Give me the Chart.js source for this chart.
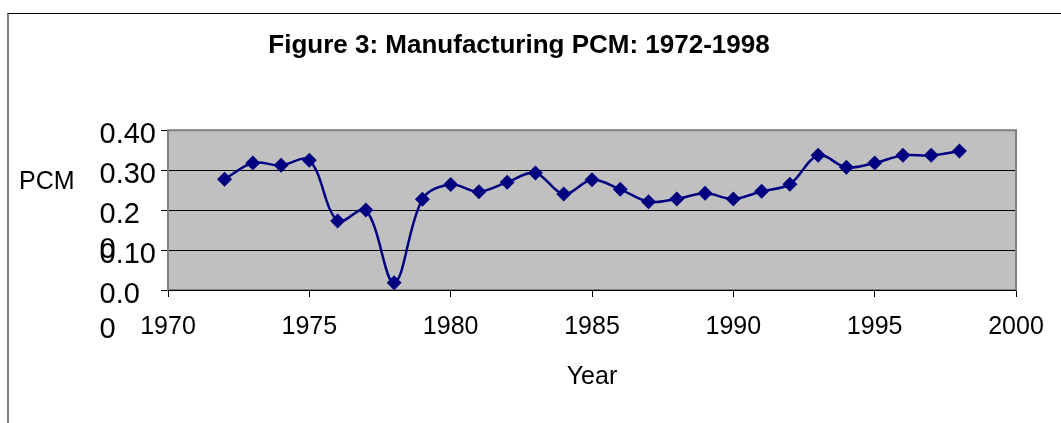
<!DOCTYPE html>
<html>
<head>
<meta charset="utf-8">
<script src="https://cdn.jsdelivr.net/npm/chart.js@4/dist/chart.umd.min.js"></script>
<style>
  html, body { margin: 0; padding: 0; background: #fff; overflow: hidden; }
  #frame { position: absolute; left: 7px; top: 13px; width: 1200px; height: 600px;
           border-top: 1px solid #000; border-left: 2px solid #808080; z-index: 0; }
  #c { position: absolute; left: 0; top: 0; z-index: 1; }
</style>
</head>
<body>
<div id="frame"></div>
<canvas id="c" width="1061" height="423"></canvas>
<script>
// ---- data ----
const years = [1972,1973,1974,1975,1976,1977,1978,1979,1980,1981,1982,1983,1984,1985,
               1986,1987,1988,1989,1990,1991,1992,1993,1994,1995,1996,1997,1998];
const pcm   = [0.277,0.318,0.312,0.325,0.173,0.200,0.018,0.227,0.264,0.246,0.270,0.293,0.240,0.276,
               0.252,0.221,0.228,0.242,0.228,0.247,0.265,0.337,0.307,0.318,0.337,0.337,0.348];
const xTickValues = [1970,1975,1980,1985,1990,1995,2000];
const yTickValues = [0, 0.1, 0.2, 0.3, 0.4];
const yTickLabels = ["0.0\u2007", "0.10", "0.2\u2007", "0.30", "0.40"];
const yWrapValues = [0.2, 0];      // labels whose last "0" wrapped to the next line
const yWrapText = "0";
const titleText = "Figure 3: Manufacturing PCM: 1972-1998";
const yTitleText = "PCM";
const xTitleText = "Year";

const FONT = "'Liberation Sans', Arial, sans-serif";
const Y_FONT_SIZE = 29;
const Y_LABEL_OFFSET = 5;

const plotPlugin = {
  id: 'plotDecor',
  beforeDraw(chart) {
    const {ctx, chartArea: a} = chart;
    ctx.save();
    ctx.fillStyle = '#C0C0C0';
    ctx.fillRect(a.left, a.top, a.right - a.left, a.bottom - a.top);
    ctx.restore();
  },
  beforeDatasetsDraw(chart) {
    const {ctx, chartArea: a} = chart;
    ctx.save();
    ctx.strokeStyle = '#808080';
    ctx.lineWidth = 2;
    ctx.strokeRect(a.left, a.top, a.right - a.left, a.bottom - a.top);
    ctx.strokeStyle = '#000';
    ctx.lineWidth = 1;
    ctx.beginPath();
    ctx.moveTo(a.left, a.bottom + 0.5);
    ctx.lineTo(a.right, a.bottom + 0.5);
    ctx.stroke();
    ctx.restore();
  },
  afterDraw(chart) {
    const {ctx} = chart;
    const ys = chart.scales.y;
    const labelRight = chart.chartArea.left - 7 - 5;
    ctx.save();
    ctx.fillStyle = '#000';
    ctx.textBaseline = 'middle';
    ctx.textAlign = 'left';
    ctx.font = Y_FONT_SIZE + 'px ' + FONT;
    yWrapValues.forEach(v => {
      const i = yTickValues.indexOf(v);
      const w = ctx.measureText(yTickLabels[i]).width;
      const y = ys.getPixelForValue(v) + Y_LABEL_OFFSET + 35;
      ctx.fillText(yWrapText, labelRight - w, y);
    });
    // horizontal y-axis title
    ctx.font = '25px ' + FONT;
    ctx.fillText(yTitleText, 19, 182);
    ctx.restore();
  }
};

new Chart(document.getElementById('c'), {
  type: 'line',
  data: {
    datasets: [{
      data: years.map((y, i) => ({x: y, y: pcm[i]})),
      borderColor: '#000080',
      backgroundColor: '#000080',
      borderWidth: 2.5,
      tension: 0.35,
      pointStyle: 'rectRot',
      pointRadius: 7.5,
      pointHoverRadius: 7.5,
      pointBackgroundColor: '#000080',
      pointBorderColor: '#000080',
      pointBorderWidth: 0,
      fill: false
    }]
  },
  options: {
    responsive: false,
    animation: false,
    devicePixelRatio: 1,
    layout: { padding: { left: 22, right: 45, top: 0, bottom: 0 } },
    plugins: {
      legend: { display: false },
      tooltip: { enabled: false },
      title: {
        display: true,
        text: titleText,
        color: '#000',
        font: { family: FONT, size: 26, weight: 'bold', lineHeight: 1.2 },
        padding: { top: 30, bottom: 69 }
      }
    },
    scales: {
      x: {
        type: 'linear',
        min: 1970, max: 2000,
        afterBuildTicks(scale) { scale.ticks = xTickValues.map(v => ({value: v})); },
        afterFit(scale) { scale.height = 133; },
        border: { display: false },
        grid: { drawOnChartArea: false, drawTicks: true, tickLength: 7, color: '#000', tickColor: '#000' },
        ticks: {
          color: '#000', padding: 15, maxRotation: 0, autoSkip: false,
          font: { family: FONT, size: 25, lineHeight: 1.2 },
          callback: v => String(v)
        },
        title: {
          display: true, text: xTitleText, color: '#000',
          font: { family: FONT, size: 25, lineHeight: 1.2 },
          padding: { top: 0, bottom: 31 }
        }
      },
      y: {
        min: 0, max: 0.4,
        afterBuildTicks(scale) { scale.ticks = yTickValues.map(v => ({value: v})); },
        afterFit(scale) { scale.width = 146; },
        border: { display: false },
        grid: { drawOnChartArea: true, drawTicks: true, tickLength: 7, color: '#000', tickColor: '#000', lineWidth: 1 },
        ticks: {
          color: '#000', padding: 5, crossAlign: 'near', labelOffset: Y_LABEL_OFFSET,
          font: { family: FONT, size: Y_FONT_SIZE, lineHeight: 1.2 },
          callback: v => {
            const i = yTickValues.findIndex(t => Math.abs(t - v) < 1e-9);
            return i >= 0 ? yTickLabels[i] : '';
          }
        }
      }
    }
  },
  plugins: [plotPlugin]
});
</script>
</body>
</html>
